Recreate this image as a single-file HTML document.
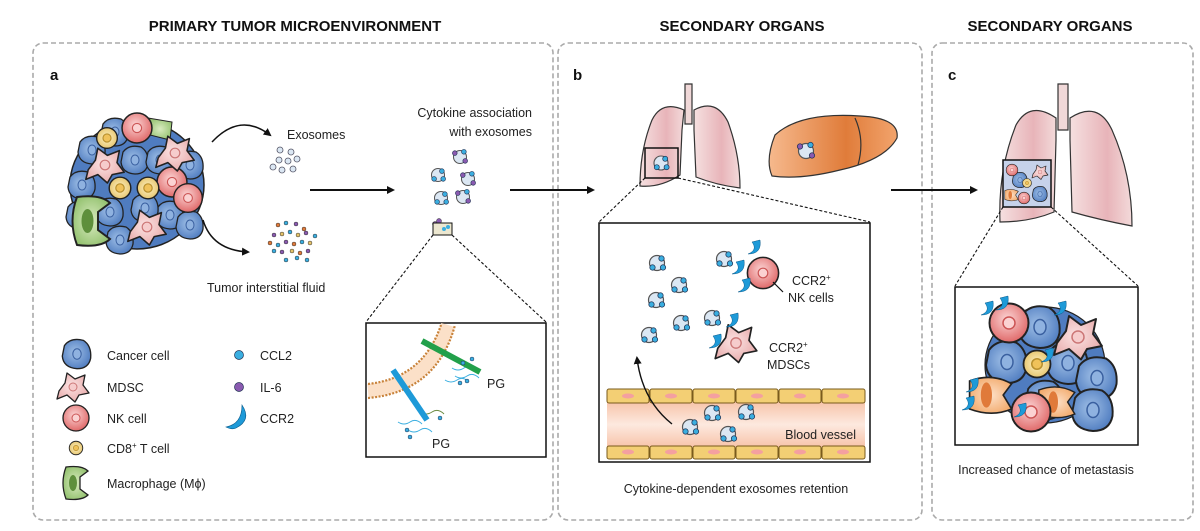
<!DOCTYPE html>
<html><head><meta charset="utf-8"><style>
html,body{margin:0;padding:0;background:#fff;}
svg{display:block;font-family:"Liberation Sans",sans-serif;}
</style></head><body>
<svg width="1200" height="531" viewBox="0 0 1200 531" xmlns="http://www.w3.org/2000/svg">
<defs>
<radialGradient id="blue" cx="45%" cy="45%" r="60%"><stop offset="0" stop-color="#9fbfe6"/><stop offset="1" stop-color="#4f7cc0"/></radialGradient>
<radialGradient id="red" cx="45%" cy="40%" r="60%"><stop offset="0" stop-color="#fbd4d4"/><stop offset="1" stop-color="#e06a6a"/></radialGradient>
<radialGradient id="pink" cx="45%" cy="45%" r="60%"><stop offset="0" stop-color="#fbe4e4"/><stop offset="1" stop-color="#e8aaaa"/></radialGradient>
<radialGradient id="yel" cx="50%" cy="50%" r="55%"><stop offset="0" stop-color="#fff3c8"/><stop offset="1" stop-color="#e5c36a"/></radialGradient>
<radialGradient id="grn" cx="50%" cy="50%" r="60%"><stop offset="0" stop-color="#d9ebc0"/><stop offset="1" stop-color="#8fbf6a"/></radialGradient>
<radialGradient id="org" cx="50%" cy="50%" r="60%"><stop offset="0" stop-color="#fde0c8"/><stop offset="1" stop-color="#f2a868"/></radialGradient>
<linearGradient id="lung" x1="0" x2="1"><stop offset="0" stop-color="#f5e0e0"/><stop offset="0.6" stop-color="#e8b4b9"/><stop offset="1" stop-color="#f3dada"/></linearGradient>
<linearGradient id="liver" x1="0" x2="1"><stop offset="0" stop-color="#f6b98d"/><stop offset="0.6" stop-color="#e07c3a"/><stop offset="1" stop-color="#f2a46d"/></linearGradient>
<linearGradient id="vessel" x1="0" y1="0" x2="0" y2="1"><stop offset="0" stop-color="#f7c4aa"/><stop offset="0.5" stop-color="#fde9df"/><stop offset="1" stop-color="#f7c4aa"/></linearGradient>
<g id="exo"><circle r="5" fill="#dbe7f3" stroke="#555" stroke-width="0.8"/><circle cx="-3" cy="3" r="1.8" fill="#3aaee0" stroke="#235" stroke-width="0.5"/><circle cx="3" cy="-3" r="1.8" fill="#3aaee0" stroke="#235" stroke-width="0.5"/><circle cx="4" cy="3" r="1.8" fill="#3aaee0" stroke="#235" stroke-width="0.5"/></g>
<g id="exo2"><circle r="5" fill="#dbe7f3" stroke="#555" stroke-width="0.8"/><circle cx="-4" cy="-3" r="1.8" fill="#8a5ab0" stroke="#235" stroke-width="0.5"/><circle cx="3" cy="-4" r="1.8" fill="#3aaee0" stroke="#235" stroke-width="0.5"/><circle cx="4" cy="3" r="1.8" fill="#8a5ab0" stroke="#235" stroke-width="0.5"/></g>
<g id="cancer"><path d="M-12,-8 Q-6,-16 6,-13 Q14,-8 13,4 Q11,14 0,14 Q-13,13 -14,2 Z" fill="url(#blue)" stroke="#222" stroke-width="1.3"/><ellipse cx="0" cy="0" rx="4" ry="5" fill="#8fb2e0" stroke="#3a60a0"/></g>
<g id="nk"><circle r="13" fill="url(#red)" stroke="#222" stroke-width="1.3"/><circle r="4" fill="#fbd2d2" stroke="#c55"/></g>
<g id="mdsc"><path d="M-14,4 L-8,-4 L-6,-14 L2,-8 L12,-12 L10,-2 L16,6 L6,8 L2,15 L-6,8 L-16,12 Z" fill="url(#pink)" stroke="#222" stroke-width="1.3" stroke-linejoin="round"/><circle r="4" fill="#f6cccc" stroke="#c77"/></g>
<g id="cd8"><circle r="9" fill="url(#yel)" stroke="#222" stroke-width="1.2"/><circle r="3.5" fill="#f0c25a" stroke="#b8902e"/></g>
<g id="mac"><path d="M-10,-16 Q6,-18 12,-12 L4,-6 L4,6 L12,12 Q6,18 -10,16 Q-16,0 -10,-16 Z" fill="url(#grn)" stroke="#222" stroke-width="1.3"/><ellipse cx="-3" cy="0" rx="4" ry="8" fill="#5e8f3c"/></g>
<g id="omac"><path d="M-16,-10 Q0,-16 14,-8 L8,0 L14,10 Q0,16 -16,10 Z" fill="url(#org)" stroke="#222" stroke-width="1.2"/><ellipse cx="-4" cy="0" rx="4" ry="9" fill="#e07a3a"/></g>
<path id="ccr" d="M0,0 Q6,8 -4,12 Q10,12 8,-2 Z" fill="#1e9ad8" stroke="#0a5a8a" stroke-width="0.5"/>
<marker id="ah" markerWidth="8" markerHeight="8" refX="6" refY="4" orient="auto" markerUnits="userSpaceOnUse"><path d="M0,0 L8,4 L0,8 Z" fill="#111"/></marker>
</defs>

<g font-weight="bold" font-size="15" fill="#111">
<text x="295" y="31" text-anchor="middle">PRIMARY TUMOR MICROENVIRONMENT</text>
<text x="742" y="31" text-anchor="middle">SECONDARY ORGANS</text>
<text x="1050" y="31" text-anchor="middle">SECONDARY ORGANS</text>
</g>
<g fill="none" stroke="#aaa" stroke-width="1.6" stroke-dasharray="5,3">
<rect x="33" y="43" width="520" height="477" rx="10"/>
<rect x="558" y="43" width="364" height="477" rx="10"/>
<rect x="932" y="43" width="261" height="477" rx="10"/>
</g>
<g font-weight="bold" font-size="15" fill="#111">
<text x="50" y="80">a</text><text x="573" y="80">b</text><text x="948" y="80">c</text>
</g>

<!-- tumor -->
<g>
<ellipse cx="137" cy="185" rx="67" ry="64" fill="#4f7cc0" stroke="#222" stroke-width="1.5"/>
<path d="M148,118 L172,122 L170,140 L150,135 Z" fill="url(#grn)" stroke="#222"/>
<use href="#cancer" transform="translate(92,150)"/><use href="#cancer" transform="translate(82,185)"/><use href="#cancer" transform="translate(110,212)"/>
<use href="#cancer" transform="translate(135,160)"/><use href="#cancer" transform="translate(160,160)"/><use href="#cancer" transform="translate(190,165)"/>
<use href="#cancer" transform="translate(120,240)"/><use href="#cancer" transform="translate(170,215)"/><use href="#cancer" transform="translate(145,208)"/>
<use href="#cancer" transform="translate(190,225)"/><use href="#cancer" transform="translate(80,215)"/><use href="#cancer" transform="translate(115,132)"/>
<use href="#nk" transform="translate(137,128) scale(1.15)"/><use href="#nk" transform="translate(172,182) scale(1.15)"/><use href="#nk" transform="translate(188,198) scale(1.1)"/>
<use href="#cd8" transform="translate(107,138) scale(1.15)"/><use href="#cd8" transform="translate(120,188) scale(1.2)"/><use href="#cd8" transform="translate(148,188) scale(1.2)"/>
<use href="#mdsc" transform="translate(105,165) scale(1.2)"/><use href="#mdsc" transform="translate(175,153) scale(1.2)"/><use href="#mdsc" transform="translate(147,227) scale(1.2)"/>
<use href="#mac" transform="translate(92,221) scale(1.5)"/>
</g>
<path d="M212,142 Q240,112 270,135" fill="none" stroke="#111" stroke-width="1.5" marker-end="url(#ah)"/>
<path d="M203,220 Q212,250 248,252" fill="none" stroke="#111" stroke-width="1.5" marker-end="url(#ah)"/>
<text x="287" y="139" font-size="12.5" fill="#222">Exosomes</text>
<g fill="#dbe7f3" stroke="#556" stroke-width="0.8">
<circle cx="280" cy="150" r="3"/><circle cx="291" cy="152" r="3"/><circle cx="279" cy="160" r="3"/><circle cx="288" cy="161" r="3"/><circle cx="297" cy="159" r="3"/><circle cx="282" cy="170" r="3"/><circle cx="293" cy="169" r="3"/><circle cx="273" cy="167" r="3"/>
</g>
<g stroke="#333" stroke-width="0.5">
<circle cx="278" cy="225" r="2" fill="#e07a3a"/><circle cx="286" cy="223" r="2" fill="#3aaee0"/><circle cx="296" cy="224" r="2" fill="#8a5ab0"/><circle cx="304" cy="229" r="2" fill="#e07a3a"/><circle cx="274" cy="235" r="2" fill="#8a5ab0"/><circle cx="282" cy="234" r="2" fill="#e5c36a"/><circle cx="290" cy="232" r="2" fill="#3aaee0"/><circle cx="298" cy="235" r="2" fill="#e5c36a"/><circle cx="306" cy="233" r="2" fill="#8a5ab0"/><circle cx="315" cy="236" r="2" fill="#3aaee0"/><circle cx="270" cy="243" r="2" fill="#e07a3a"/><circle cx="278" cy="245" r="2" fill="#3aaee0"/><circle cx="286" cy="242" r="2" fill="#8a5ab0"/><circle cx="294" cy="244" r="2" fill="#e07a3a"/><circle cx="302" cy="242" r="2" fill="#3aaee0"/><circle cx="310" cy="243" r="2" fill="#e5c36a"/><circle cx="274" cy="251" r="2" fill="#3aaee0"/><circle cx="282" cy="252" r="2" fill="#8a5ab0"/><circle cx="292" cy="251" r="2" fill="#e5c36a"/><circle cx="300" cy="253" r="2" fill="#e07a3a"/><circle cx="308" cy="251" r="2" fill="#8a5ab0"/><circle cx="286" cy="260" r="2" fill="#3aaee0"/><circle cx="297" cy="258" r="2" fill="#3aaee0"/><circle cx="307" cy="260" r="2" fill="#3aaee0"/>
</g>
<text x="207" y="292" font-size="12.5" fill="#222">Tumor interstitial fluid</text>
<line x1="310" y1="190" x2="393" y2="190" stroke="#111" stroke-width="2" marker-end="url(#ah)"/>
<text x="532" y="117" font-size="12.5" fill="#222" text-anchor="end">Cytokine association</text>
<text x="532" y="136" font-size="12.5" fill="#222" text-anchor="end">with exosomes</text>
<use href="#exo2" transform="translate(460,157) scale(1.3)"/><use href="#exo" transform="translate(438,175) scale(1.3)"/><use href="#exo2" transform="translate(468,179) scale(1.3)"/><use href="#exo" transform="translate(441,198) scale(1.3)"/><use href="#exo2" transform="translate(463,197) scale(1.3)"/>
<circle cx="435" cy="224" r="2.5" fill="#8a5ab0" stroke="#333" stroke-width="0.5"/><circle cx="439" cy="221" r="2.5" fill="#8a5ab0" stroke="#333" stroke-width="0.5"/>
<rect x="433" y="223" width="19" height="12" fill="#ece7d0" stroke="#111" stroke-width="1"/>
<circle cx="444" cy="229" r="2" fill="#3aaee0"/><circle cx="448" cy="227" r="2" fill="#3aaee0"/>
<line x1="510" y1="190" x2="593" y2="190" stroke="#111" stroke-width="2" marker-end="url(#ah)"/>
<g stroke="#111" stroke-width="1.1" stroke-dasharray="3,2"><line x1="433" y1="235" x2="366" y2="322"/><line x1="452" y1="235" x2="546" y2="322"/></g>
<rect x="366" y="323" width="180" height="134" fill="#fff" stroke="#111" stroke-width="1.5"/>
<g fill="none">
<path d="M368,391 Q430,385 448,325" stroke="#fbe0c8" stroke-width="14"/>
<path d="M368,384 Q423,378 441,325" stroke="#c8823a" stroke-width="2.2" stroke-dasharray="2,1.5"/>
<path d="M368,398 Q437,392 455,325" stroke="#c8823a" stroke-width="2.2" stroke-dasharray="2,1.5"/>
<path d="M452,368 q6,4 12,0 t12,2" stroke="#3aaee0"/><path d="M455,376 q6,4 12,0 t12,2" stroke="#3aaee0"/><path d="M445,380 q6,4 12,0 t12,2" stroke="#3aaee0"/>
<path d="M420,412 q6,4 12,0 t12,2" stroke="#6a8a40"/><path d="M398,422 q6,4 12,0 t12,2" stroke="#3aaee0"/><path d="M408,430 q6,4 12,0 t12,2" stroke="#3aaee0"/>
</g>
<line x1="422" y1="341" x2="480" y2="372" stroke="#22a04a" stroke-width="6"/>
<line x1="393" y1="370" x2="427" y2="420" stroke="#1e9ad8" stroke-width="6"/>
<g fill="#3aaee0" stroke="#235" stroke-width="0.5"><circle cx="463" cy="363" r="2"/><circle cx="472" cy="359" r="2"/><circle cx="460" cy="383" r="2"/><circle cx="467" cy="381" r="2"/><circle cx="407" cy="430" r="2"/><circle cx="410" cy="437" r="2"/><circle cx="440" cy="418" r="2"/></g>
<text x="487" y="388" font-size="12.5" fill="#222">PG</text>
<text x="432" y="448" font-size="12.5" fill="#222">PG</text>

<!-- legend -->
<use href="#cancer" transform="translate(77,354) scale(1.05)"/><text x="107" y="360" font-size="12.5" fill="#222">Cancer cell</text>
<use href="#mdsc" transform="translate(73,387)"/><text x="107" y="392" font-size="12.5" fill="#222">MDSC</text>
<use href="#nk" transform="translate(76,418)"/><text x="107" y="423" font-size="12.5" fill="#222">NK cell</text>
<use href="#cd8" transform="translate(76,448) scale(0.75)"/><text x="107" y="453" font-size="12.5" fill="#222">CD8<tspan font-size="8" dy="-5">+</tspan><tspan dy="5"> T cell</tspan></text>
<use href="#mac" transform="translate(76,483)"/><text x="107" y="488" font-size="12.5" fill="#222">Macrophage (Mϕ)</text>
<circle cx="239" cy="355" r="4.5" fill="#3aaee0" stroke="#235" stroke-width="0.7"/><text x="260" y="360" font-size="12.5" fill="#222">CCL2</text>
<circle cx="239" cy="387" r="4.5" fill="#8a5ab0" stroke="#235" stroke-width="0.7"/><text x="260" y="392" font-size="12.5" fill="#222">IL-6</text>
<path d="M242,405 Q252,420 236,428 Q232,430 226,427 Q242,424 242,405 Z" fill="#1e9ad8" stroke="#0a5a8a" stroke-width="0.6"/><text x="260" y="423" font-size="12.5" fill="#222">CCR2</text>

<!-- panel b lungs -->
<g stroke="#333" stroke-width="1.2">
<path d="M685,84 L692,84 L692,124 L685,124 Z" fill="#f0d8d8"/>
<path d="M684,110 Q662,100 652,120 Q640,150 640,186 Q660,188 680,175 L682,130 Z" fill="url(#lung)"/>
<path d="M694,110 Q716,98 728,122 Q740,155 740,188 Q716,185 696,177 L694,130 Z" fill="url(#lung)"/>
<path d="M775,135 Q800,112 860,116 Q900,118 897,138 Q885,160 840,170 Q800,180 772,176 Q765,160 775,135 Z" fill="url(#liver)"/>
<path d="M855,118 Q865,140 858,165" fill="none"/>
</g>
<use href="#exo2" transform="translate(806,151) scale(1.5)"/>
<rect x="645" y="148" width="33" height="30" fill="none" stroke="#111" stroke-width="1.5"/>
<use href="#exo" transform="translate(661,163) scale(1.4)"/>
<g stroke="#111" stroke-width="1.1" stroke-dasharray="3,2"><line x1="645" y1="178" x2="599" y2="222"/><line x1="678" y1="178" x2="870" y2="222"/></g>
<rect x="599" y="223" width="271" height="239" fill="#fff" stroke="#111" stroke-width="1.5"/>
<rect x="607" y="402" width="258" height="45" fill="url(#vessel)"/>
<g fill="#f3cf74" stroke="#7a5b1c" stroke-width="1">
<rect x="607" y="389" width="42" height="14" rx="2"/><rect x="650" y="389" width="42" height="14" rx="2"/><rect x="693" y="389" width="42" height="14" rx="2"/><rect x="736" y="389" width="42" height="14" rx="2"/><rect x="779" y="389" width="42" height="14" rx="2"/><rect x="822" y="389" width="43" height="14" rx="2"/>
<rect x="607" y="446" width="42" height="13" rx="2"/><rect x="650" y="446" width="42" height="13" rx="2"/><rect x="693" y="446" width="42" height="13" rx="2"/><rect x="736" y="446" width="42" height="13" rx="2"/><rect x="779" y="446" width="42" height="13" rx="2"/><rect x="822" y="446" width="43" height="13" rx="2"/>
</g>
<g fill="#f4a0a0"><ellipse cx="628" cy="396" rx="6" ry="2.5"/><ellipse cx="671" cy="396" rx="6" ry="2.5"/><ellipse cx="714" cy="396" rx="6" ry="2.5"/><ellipse cx="757" cy="396" rx="6" ry="2.5"/><ellipse cx="800" cy="396" rx="6" ry="2.5"/><ellipse cx="843" cy="396" rx="6" ry="2.5"/><ellipse cx="628" cy="452" rx="6" ry="2.5"/><ellipse cx="671" cy="452" rx="6" ry="2.5"/><ellipse cx="714" cy="452" rx="6" ry="2.5"/><ellipse cx="757" cy="452" rx="6" ry="2.5"/><ellipse cx="800" cy="452" rx="6" ry="2.5"/><ellipse cx="843" cy="452" rx="6" ry="2.5"/></g>
<text x="856" y="439" font-size="12.5" fill="#222" text-anchor="end">Blood vessel</text>
<path d="M672,424 Q642,400 637,358" fill="none" stroke="#111" stroke-width="1.4" marker-end="url(#ah)"/>
<g>
<use href="#exo" transform="translate(657,263) scale(1.5)"/><use href="#exo" transform="translate(679,285) scale(1.5)"/><use href="#exo" transform="translate(656,300) scale(1.5)"/><use href="#exo" transform="translate(681,323) scale(1.5)"/><use href="#exo" transform="translate(649,335) scale(1.5)"/><use href="#exo" transform="translate(724,259) scale(1.5)"/><use href="#exo" transform="translate(712,318) scale(1.5)"/>
<use href="#exo" transform="translate(690,427) scale(1.5)"/><use href="#exo" transform="translate(712,413) scale(1.5)"/><use href="#exo" transform="translate(746,412) scale(1.5)"/><use href="#exo" transform="translate(728,434) scale(1.5)"/>
</g>
<use href="#nk" transform="translate(763,273) scale(1.2)"/>
<use href="#ccr" transform="translate(736,262)"/><use href="#ccr" transform="translate(742,280)"/><use href="#ccr" transform="translate(752,242)"/>
<line x1="773" y1="282" x2="783" y2="292" stroke="#111" stroke-width="1.2"/>
<text x="792" y="285" font-size="12.5" fill="#222">CCR2<tspan font-size="8" dy="-5">+</tspan></text>
<text x="788" y="302" font-size="12.5" fill="#222">NK cells</text>
<use href="#mdsc" transform="translate(736,343) scale(1.3)"/>
<use href="#ccr" transform="translate(730,315)"/><use href="#ccr" transform="translate(713,336)"/>
<text x="769" y="352" font-size="12.5" fill="#222">CCR2<tspan font-size="8" dy="-5">+</tspan></text>
<text x="767" y="369" font-size="12.5" fill="#222">MDSCs</text>
<text x="736" y="493" font-size="12.5" fill="#222" text-anchor="middle">Cytokine-dependent  exosomes  retention</text>

<line x1="891" y1="190" x2="976" y2="190" stroke="#111" stroke-width="2" marker-end="url(#ah)"/>

<!-- panel c lungs -->
<g stroke="#333" stroke-width="1.2">
<path d="M1058,84 L1068,84 L1068,130 L1058,130 Z" fill="#f0d8d8"/>
<path d="M1056,118 Q1030,100 1016,125 Q998,170 1000,222 Q1030,222 1054,212 L1056,140 Z" fill="url(#lung)"/>
<path d="M1070,118 Q1098,100 1112,130 Q1132,175 1132,226 Q1100,220 1072,212 L1070,140 Z" fill="url(#lung)"/>
</g>
<rect x="1003" y="160" width="48" height="47" fill="#c6d2ea" stroke="#111" stroke-width="1.5"/>
<g>
<use href="#cancer" transform="translate(1020,180) scale(0.55)"/><use href="#nk" transform="translate(1012,170) scale(0.45)"/><use href="#cd8" transform="translate(1027,183) scale(0.5)"/><use href="#mdsc" transform="translate(1040,172) scale(0.5)"/><use href="#cancer" transform="translate(1040,194) scale(0.55)"/><use href="#nk" transform="translate(1024,198) scale(0.45)"/><use href="#omac" transform="translate(1012,195) scale(0.45)"/>
</g>
<g stroke="#111" stroke-width="1.1" stroke-dasharray="3,2"><line x1="1003" y1="207" x2="955" y2="286"/><line x1="1051" y1="207" x2="1138" y2="286"/></g>
<rect x="955" y="287" width="183" height="158" fill="#fff" stroke="#111" stroke-width="1.5"/>
<g>
<ellipse cx="1045" cy="365" rx="60" ry="58" fill="#4f7cc0" stroke="#222" stroke-width="1.2"/>
<use href="#cancer" transform="translate(1040,327) scale(1.5)"/>
<use href="#cancer" transform="translate(1007,362) scale(1.5)"/>
<use href="#cancer" transform="translate(1068,363) scale(1.5)"/>
<use href="#cancer" transform="translate(1097,378) scale(1.5)"/>
<use href="#cancer" transform="translate(1093,410) scale(1.5)"/>
<use href="#cancer" transform="translate(1045,400) scale(1.4)"/>
<use href="#omac" transform="translate(992,395) scale(1.4)"/>
<use href="#omac" transform="translate(1058,402) scale(1.2)"/>
<use href="#nk" transform="translate(1009,323) scale(1.5)"/>
<use href="#mdsc" transform="translate(1078,337) scale(1.5)"/>
<use href="#cd8" transform="translate(1037,364) scale(1.5)"/>
<use href="#nk" transform="translate(1031,412) scale(1.5)"/>
<use href="#ccr" transform="translate(985,303)"/><use href="#ccr" transform="translate(1000,298)"/><use href="#ccr" transform="translate(1058,303)"/><use href="#ccr" transform="translate(970,380)"/><use href="#ccr" transform="translate(966,398)"/><use href="#ccr" transform="translate(1018,405)"/><use href="#ccr" transform="translate(1045,350)"/>
</g>
<text x="1046" y="474" font-size="12.5" fill="#222" text-anchor="middle">Increased chance of metastasis</text>
</svg>
</body></html>
